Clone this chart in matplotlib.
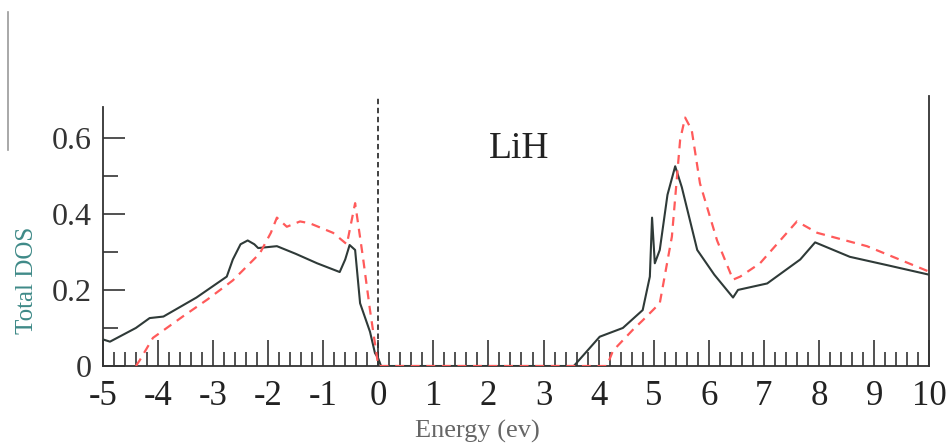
import matplotlib
matplotlib.use("Agg")
import matplotlib.pyplot as plt
from matplotlib.ticker import MultipleLocator, FixedLocator
from matplotlib.lines import Line2D

# Solid (black) total DOS
solid_x = [-5.0, -4.87, -4.4, -4.15, -3.9, -3.3, -2.75, -2.64, -2.5, -2.37, -2.25, -2.18, -1.84, -1.5, -1.11,
           -0.70, -0.6, -0.52, -0.42, -0.33, -0.15, -0.06, 0.0, 0.05, 1.0, 2.0, 3.0, 3.55,
           4.02, 4.44, 4.8, 4.93, 4.97, 5.02, 5.11, 5.25, 5.39, 5.51, 5.79, 6.1, 6.44, 6.53,
           7.06, 7.66, 7.93, 8.56, 9.24, 10.0]
solid_y = [0.07, 0.064, 0.10, 0.126, 0.13, 0.18, 0.235, 0.28, 0.32, 0.33, 0.32, 0.31, 0.315, 0.295, 0.27,
           0.247, 0.28, 0.318, 0.305, 0.165, 0.09, 0.034, 0.02, 0.0, 0.0, 0.0, 0.0, 0.0,
           0.077, 0.10, 0.147, 0.235, 0.39, 0.27, 0.305, 0.45, 0.525, 0.47, 0.305, 0.24, 0.18, 0.20,
           0.217, 0.28, 0.325, 0.287, 0.265, 0.24]

# Dashed (red) total DOS
dash_x = [-4.4, -4.33, -4.09, -3.55, -3.1, -2.64, -2.15, -1.95, -1.84, -1.66, -1.42, -1.24, -0.82, -0.57,
          -0.42, -0.28, -0.15, -0.025, 0.0, 1.0, 2.0, 3.0, 4.15,
          4.26, 4.62, 4.8, 5.11, 5.33, 5.48, 5.57, 5.69, 5.84, 6.15, 6.44, 6.57, 6.93, 7.6, 7.97,
          8.87, 10.0]
dash_y = [0.0, 0.015, 0.074, 0.13, 0.175, 0.225, 0.296, 0.35, 0.39, 0.366, 0.38, 0.375, 0.35, 0.32,
          0.428, 0.288, 0.147, 0.025, 0.0, 0.0, 0.0, 0.0, 0.0,
          0.04, 0.095, 0.12, 0.165, 0.34, 0.595, 0.653, 0.62, 0.48, 0.33, 0.227, 0.235, 0.27, 0.38, 0.35,
          0.315, 0.248]

x_ticks = list(range(-5, 11))
x_ticklabels = [str(v) for v in x_ticks]
y_ticks = [0, 0.2, 0.4, 0.6]
y_ticklabels = ["0", "0.2", "0.4", "0.6"]
y_minor = [0.1, 0.3, 0.5]

serif = ["Liberation Serif", "DejaVu Serif"]

fig = plt.figure(figsize=(9.52, 4.48), dpi=100)
ax = fig.add_axes([0.108, 0.183, 0.868, 0.603])

ax.plot(solid_x, solid_y, color="#2f3a38", lw=1.5, zorder=3)
ax.plot(dash_x, dash_y, color="#ff5a5a", lw=1.6, ls=(0, (4, 3)), zorder=4)
ax.axvline(0, color="#333333", lw=1.3, ls=(0, (3, 2)), zorder=2)

ax.set_xlim(-5, 10)
ax.set_ylim(0, 0.71)
ax.spines["top"].set_visible(False)
ax.spines["left"].set_bounds(0, 0.68)
for s in ["left", "right", "bottom"]:
    ax.spines[s].set_color("#333333")
    ax.spines[s].set_linewidth(1.3)

ax.set_xticks(x_ticks)
ax.set_xticklabels(x_ticklabels, fontfamily=serif, fontsize=25, color="#222222")
ax.xaxis.set_minor_locator(MultipleLocator(0.2))
ax.set_yticks(y_ticks)
ax.set_yticklabels(y_ticklabels, fontfamily=serif, fontsize=23, color="#333333")
ax.yaxis.set_minor_locator(FixedLocator(y_minor))
ax.tick_params(axis="x", which="major", direction="in", length=19, width=1.2, pad=10, color="#333333")
ax.tick_params(axis="x", which="minor", direction="in", length=10, width=1.2, color="#333333")
ax.tick_params(axis="y", which="major", direction="in", length=16, width=1.2, pad=8, color="#333333")
ax.tick_params(axis="y", which="minor", direction="in", length=11, width=1.2, color="#333333")
ax.tick_params(right=False, top=False)

ax.text(2.55, 0.57, "LiH", fontfamily=serif, fontsize=27, color="#222222", ha="center", va="center")

fig.text(0.028, 0.375, "Total DOS", rotation=90, fontfamily=serif, fontsize=18, color="#3f8a88",
         ha="center", va="center")
fig.text(0.501, 0.036, "Energy (ev)", fontfamily=serif, fontsize=19, color="#666666", ha="center", va="center")

# faint scanning edge line at the far left
fig.add_artist(Line2D([0.008, 0.008], [1 - 150 / 448, 1 - 12 / 448], transform=fig.transFigure,
                      color="#9a9a9a", lw=1.2))

fig.savefig("out.png", dpi=100, facecolor="white")
